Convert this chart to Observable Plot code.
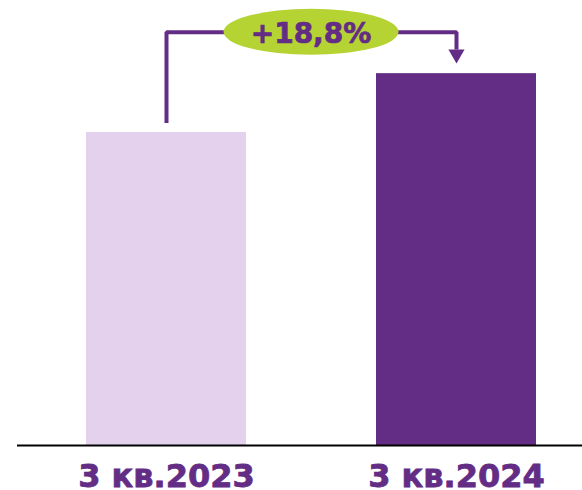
<!DOCTYPE html>
<html><head><meta charset="utf-8">
<script src="https://cdn.jsdelivr.net/npm/d3@7"></script>
<script src="https://cdn.jsdelivr.net/npm/@observablehq/plot@0.6"></script>
<style>body{margin:0;background:#fff;overflow:hidden}</style>
</head><body><div id="chart"></div>
<script>
const categories = ["3 кв.2023", "3 кв.2024"];
const values = [100, 118.8];
const barColors = ["#e3d1ee", "#642d85"];
const changeLabel = "+18,8%";
const bracketX = [categories[0], categories[0], categories[1], categories[1]];
const bracketY = [103, 132, 132, 126.5];
const arrowY = 125;

const purple = "#642d85";
const data = categories.map((c, i) => ({cat: c, value: values[i], color: barColors[i]}));
const bracket = bracketX.map((x, i) => ({x, y: bracketY[i]}));

const badge = (index, scales) => {
  const x = scales.x, y = scales.y;
  const bw = x.bandwidth ? x.bandwidth() : 0;
  const cx = (x(categories[0]) + x(categories[1])) / 2 + bw / 2;
  const cy = y(bracketY[1]);
  const g = d3.create("svg:g");
  g.append("ellipse").attr("cx", cx).attr("cy", cy).attr("rx", 87.5).attr("ry", 23).attr("fill", "#b6d334");
  g.append("text").attr("x", cx).attr("y", cy + 11).attr("text-anchor", "middle")
    .attr("font-family", "DejaVu Sans, Verdana, sans-serif").attr("font-weight", "bold")
    .attr("font-size", 28).attr("fill", purple)
    .attr("stroke", purple).attr("stroke-width", 0.7).attr("paint-order", "stroke")
    .text(changeLabel);
  return g.node();
};

const chart = Plot.plot({
  width: 582,
  height: 490,
  marginLeft: 17,
  marginRight: 0,
  marginTop: 0,
  marginBottom: 45,
  style: {fontFamily: "DejaVu Sans, Verdana, sans-serif", background: "#fff"},
  x: {domain: categories, paddingInner: 0.45, paddingOuter: 0.196, align: 0.6, label: null, tickSize: 0, tickPadding: 18.5},
  y: {domain: [0, 142.17], axis: null},
  marks: [
    Plot.barY(data, {x: "cat", y: "value", fill: "color"}),
    Plot.ruleY([0], {stroke: "#000", strokeWidth: 2}),
    Plot.line(bracket, {x: "x", y: "y", stroke: purple, strokeWidth: 4, strokeLinejoin: "miter", strokeLinecap: "butt"}),
    Plot.dot([{x: categories[1], y: arrowY}], {x: "x", y: "y", symbol: "triangle", rotate: 180, r: 6, fill: purple, stroke: null}),
    badge
  ]
});
const svg = d3.select(chart);
svg.select("g[aria-label='x-axis tick label']")
  .attr("font-size", 32).attr("font-weight", "bold").attr("fill", purple)
  .attr("stroke", purple).attr("stroke-width", 0.8).attr("paint-order", "stroke");
document.getElementById("chart").appendChild(chart);
</script>
</body></html>
